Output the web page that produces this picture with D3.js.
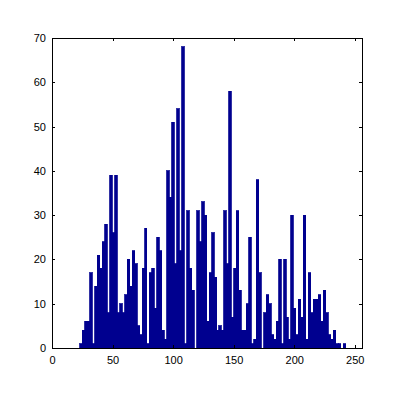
<!DOCTYPE html>
<html>
<head>
<meta charset="utf-8">
<script src="https://cdn.jsdelivr.net/npm/d3@7"></script>
<style>
  html, body { margin: 0; padding: 0; background: #fff; }
  svg { display: block; }
  .tick text { font-family: "Liberation Sans", Arial, sans-serif; font-size: 11px; fill: #000; }
</style>
</head>
<body>
<script>
// ---- data ----
const binStart = 23.1;      // left edge of first bin (data units)
const binWidth = 2.05;      // bin width (data units)
const counts = [1,4,6,6,17,1,14,21,18,24,28,8,39,26,39,8,10,8,12,20,14,
  22,19,5,3,18,27,1,17,18,9,25,22,4,2,40,34,51,19,54,22,68,1,31,
  18,13,0,31,24,33,30,6,17,26,16,4,5,4,31,19,58,7,18,31,13,4,4,
  10,25,1,2,38,17,0,8,12,10,3,2,6,20,1,20,7,2,30,9,3,11,7,30,
  2,17,8,11,11,12,6,13,8,3,2,4,1,1,0,1];
const xDomain = [0, 256];
const yDomain = [0, 70];
const xTicks = [0, 50, 100, 150, 200, 250];
const yTicks = [0, 10, 20, 30, 40, 50, 60, 70];

// ---- layout ----
const W = 400, H = 400;
const mLeft = 52, mRight = 362, mTop = 38, mBottom = 348;
const barColor = "rgb(0,0,143)";

const svg = d3.select("body").append("svg").attr("width", W).attr("height", H);

const x = d3.scaleLinear().domain(xDomain).range([mLeft, mRight]);
const y = d3.scaleLinear().domain(yDomain).range([mBottom, mTop]);

const bins = counts.map((c, i) => ({ x0: binStart + i * binWidth, x1: binStart + (i + 1) * binWidth, c }));

svg.append("g").attr("shape-rendering", "crispEdges")
  .selectAll("rect").data(bins.filter(d => d.c > 0)).join("rect")
  .attr("x", d => x(d.x0))
  .attr("width", d => x(d.x1) - x(d.x0))
  .attr("y", d => y(d.c))
  .attr("height", d => y(0) - y(d.c))
  .attr("fill", barColor)
  .attr("stroke", barColor)
  .attr("stroke-width", 0.8);

const tl = 3;
const gB = svg.append("g").attr("transform", `translate(0,${mBottom})`)
  .call(d3.axisBottom(x).tickValues(xTicks).tickSizeInner(-tl).tickSizeOuter(0).tickPadding(6).tickFormat(d3.format("d")));
const gT = svg.append("g").attr("transform", `translate(0,${mTop})`)
  .call(d3.axisTop(x).tickValues(xTicks).tickSizeInner(-tl).tickSizeOuter(0).tickFormat(""));
const gL = svg.append("g").attr("transform", `translate(${mLeft},0)`)
  .call(d3.axisLeft(y).tickValues(yTicks).tickSizeInner(-tl).tickSizeOuter(0).tickPadding(6).tickFormat(d3.format("d")));
const gR = svg.append("g").attr("transform", `translate(${mRight},0)`)
  .call(d3.axisRight(y).tickValues(yTicks).tickSizeInner(-tl).tickSizeOuter(0).tickFormat(""));

[gB, gT, gL, gR].forEach(g => {
  g.attr("shape-rendering", "crispEdges");
  g.selectAll("path.domain").attr("stroke", "#000").attr("stroke-width", 1);
  g.selectAll(".tick line").attr("stroke", "#000");
});
gB.selectAll(".tick text").attr("dy", "0.9em");
</script>
</body>
</html>
